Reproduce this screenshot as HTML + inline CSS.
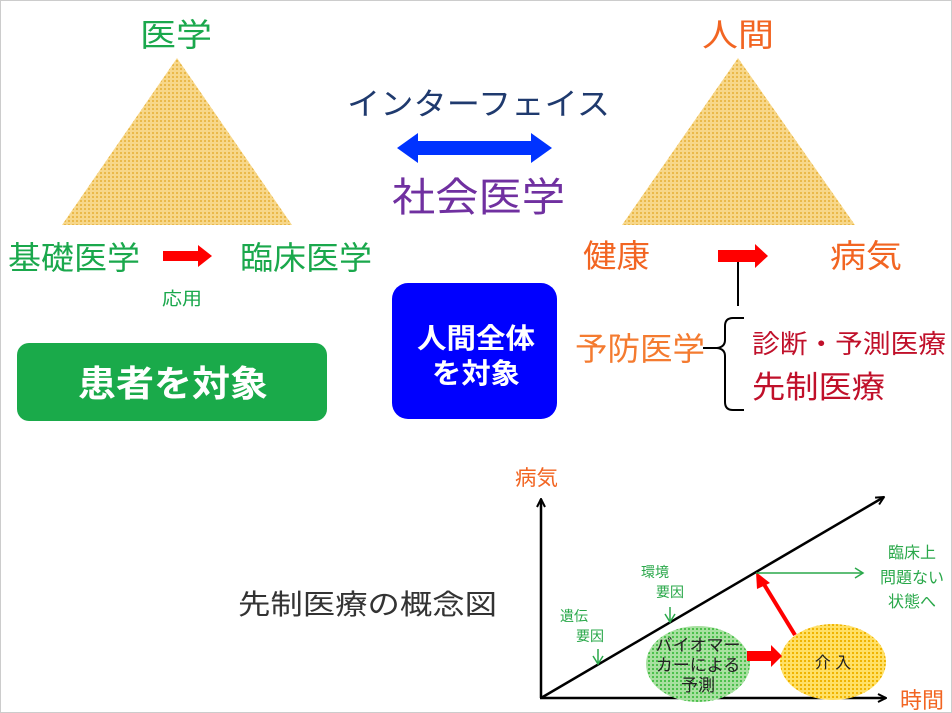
<!DOCTYPE html>
<html><head><meta charset="utf-8"><style>
html,body{margin:0;padding:0;background:#fff}
svg{display:block}
text{font-family:"Liberation Sans","Noto Sans CJK JP",sans-serif}
</style></head><body>
<svg width="952" height="713" viewBox="0 0 952 713" xmlns="http://www.w3.org/2000/svg">
<defs>
<pattern id="dy" width="4" height="4" patternUnits="userSpaceOnUse"><rect width="4" height="4" fill="#f7d78a"/><rect width="2" height="2" fill="#eab94a"/></pattern>
<pattern id="dg" width="4" height="4" patternUnits="userSpaceOnUse"><rect width="4" height="4" fill="#a8e0a0"/><rect width="2" height="2" fill="#4cc04c"/></pattern>
<pattern id="dy2" width="4" height="4" patternUnits="userSpaceOnUse"><rect width="4" height="4" fill="#ffe066"/><rect width="2" height="2" fill="#f0b400"/></pattern>
<marker id="ab" markerWidth="10" markerHeight="10" refX="9" refY="5" orient="auto" markerUnits="userSpaceOnUse"><path d="M1,1 L9,5 L1,9" fill="none" stroke="#000" stroke-width="2"/></marker>
<marker id="ag" markerWidth="12" markerHeight="12" refX="10" refY="6" orient="auto" markerUnits="userSpaceOnUse"><path d="M2,1 L10,6 L2,11" fill="none" stroke="#2aa84a" stroke-width="1.5"/></marker>
</defs>
<rect x="0.5" y="0.5" width="951" height="712" fill="#fff" stroke="#ccc"/>
<polygon points="177,58 62,225 292,225" fill="url(#dy)"/>
<polygon points="738,58 622,225 855,225" fill="url(#dy)"/>
<text x="140" y="46" font-size="32" fill="#1aa84c" textLength="72" lengthAdjust="spacingAndGlyphs">医学</text>
<text x="702" y="46" font-size="32" fill="#f26522" textLength="72" lengthAdjust="spacingAndGlyphs">人間</text>
<text x="347" y="115" font-size="31" fill="#1f3a6e" textLength="263" lengthAdjust="spacingAndGlyphs">インターフェイス</text>
<polygon points="397,148 418,133 418,141 531,141 531,133 552,148 531,163 531,155 418,155 418,163" fill="#0033ff"/>
<text x="392" y="211" font-size="40" fill="#7030a0" textLength="173" lengthAdjust="spacingAndGlyphs">社会医学</text>
<text x="8" y="269" font-size="32" fill="#1aa84c" textLength="132" lengthAdjust="spacingAndGlyphs">基礎医学</text>
<polygon points="163,251 198,251 198,245 212,256 198,267 198,261 163,261" fill="#ff0000"/>
<text x="240" y="269" font-size="32" fill="#1aa84c" textLength="132" lengthAdjust="spacingAndGlyphs">臨床医学</text>
<text x="162" y="305" font-size="18" fill="#1aa84c" textLength="40" lengthAdjust="spacingAndGlyphs">応用</text>
<rect x="17" y="343" width="310" height="78" rx="12" fill="#1aaa4a"/>
<text x="78" y="396" font-size="36" fill="#fff" font-weight="bold" textLength="190" lengthAdjust="spacingAndGlyphs">患者を対象</text>
<rect x="392" y="283" width="165" height="136" rx="16" fill="#0000ff"/>
<text x="417" y="348" font-size="28" fill="#fff" font-weight="bold" textLength="118" lengthAdjust="spacingAndGlyphs">人間全体</text>
<text x="432" y="383" font-size="28" fill="#fff" font-weight="bold" textLength="88" lengthAdjust="spacingAndGlyphs">を対象</text>
<text x="583" y="267" font-size="32" fill="#f26522" textLength="67" lengthAdjust="spacingAndGlyphs">健康</text>
<polygon points="718,250 755,250 755,244 768,256 755,268 755,262 718,262" fill="#ff0000"/>
<text x="830" y="267" font-size="32" fill="#f26522" textLength="72" lengthAdjust="spacingAndGlyphs">病気</text>
<line x1="738" y1="262" x2="738" y2="306" stroke="#000" stroke-width="2"/>
<text x="575" y="360" font-size="32" fill="#f47b30" textLength="130" lengthAdjust="spacingAndGlyphs">予防医学</text>
<path d="M744,318 L733,318 Q725,318 725,326 L725,340 Q725,347 717,348 L703,348 M717,348 Q725,349 725,356 L725,402 Q725,410 733,410 L744,410" fill="none" stroke="#000" stroke-width="2"/>
<text x="752" y="353" font-size="26" fill="#c0102a" textLength="194" lengthAdjust="spacingAndGlyphs">診断・予測医療</text>
<text x="752" y="398" font-size="31" fill="#c0102a" textLength="133" lengthAdjust="spacingAndGlyphs">先制医療</text>
<text x="238" y="614" font-size="28" fill="#333" textLength="259" lengthAdjust="spacingAndGlyphs">先制医療の概念図</text>
<text x="515" y="485" font-size="21" fill="#f26522" textLength="43" lengthAdjust="spacingAndGlyphs">病気</text>
<text x="900" y="708" font-size="22" fill="#f26522" textLength="44" lengthAdjust="spacingAndGlyphs">時間</text>
<line x1="541" y1="698" x2="541" y2="499" stroke="#000" stroke-width="2.5" marker-end="url(#ab)"/>
<line x1="540" y1="698" x2="886" y2="698" stroke="#000" stroke-width="2.5" marker-end="url(#ab)"/>
<line x1="541" y1="698" x2="884" y2="497" stroke="#000" stroke-width="2.5" marker-end="url(#ab)"/>
<ellipse cx="698" cy="664" rx="52" ry="38" fill="url(#dg)"/>
<ellipse cx="833" cy="662" rx="53" ry="38" fill="url(#dy2)"/>
<text x="698" y="651" font-size="17" fill="#222" text-anchor="middle">バイオマー</text>
<text x="698" y="671" font-size="17" fill="#222" text-anchor="middle">カーによる</text>
<text x="698" y="691" font-size="17" fill="#222" text-anchor="middle">予測</text>
<text x="833" y="668" font-size="16" fill="#222" text-anchor="middle">介 入</text>
<polygon points="747,651 771,651 771,645 782,656 771,667 771,661 747,661" fill="#ff0000"/>
<line x1="795" y1="635" x2="762" y2="581" stroke="#ff0000" stroke-width="4"/>
<polygon points="756,572 770,583 757,589" fill="#ff0000"/>
<line x1="756" y1="573" x2="863" y2="573" stroke="#2aa84a" stroke-width="1.5" marker-end="url(#ag)"/>
<text x="912" y="558" font-size="16" fill="#2aa84a" text-anchor="middle">臨床上</text>
<text x="912" y="583" font-size="16" fill="#2aa84a" text-anchor="middle">問題ない</text>
<text x="912" y="607" font-size="16" fill="#2aa84a" text-anchor="middle">状態へ</text>
<text x="574" y="621" font-size="14" fill="#2aa84a" text-anchor="middle">遺伝</text>
<text x="590" y="641" font-size="14" fill="#2aa84a" text-anchor="middle">要因</text>
<line x1="598" y1="649" x2="598" y2="664" stroke="#2aa84a" stroke-width="1.5" marker-end="url(#ag)"/>
<text x="655" y="577" font-size="14" fill="#2aa84a" text-anchor="middle">環境</text>
<text x="670" y="597" font-size="14" fill="#2aa84a" text-anchor="middle">要因</text>
<line x1="670" y1="607" x2="670" y2="622" stroke="#2aa84a" stroke-width="1.5" marker-end="url(#ag)"/>
</svg>
</body></html>
